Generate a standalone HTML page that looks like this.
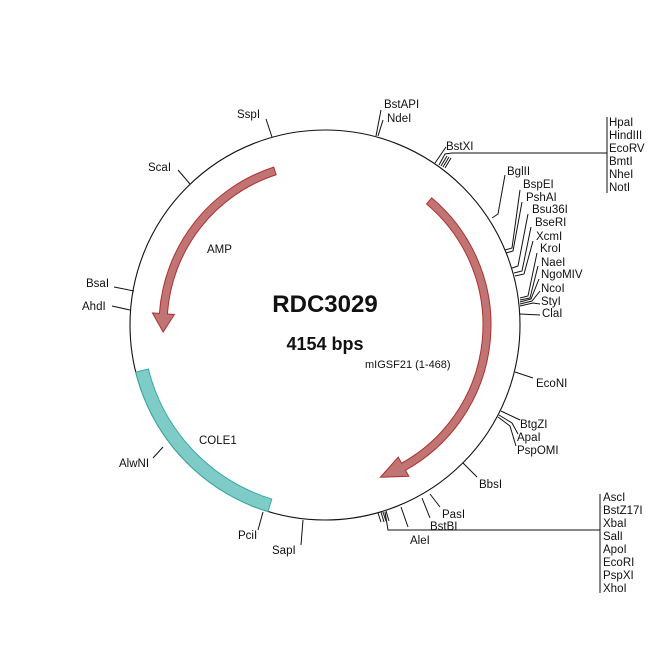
<!DOCTYPE html>
<html><head><meta charset="utf-8"><style>
html,body{margin:0;padding:0;background:#fff;}
svg{display:block;}
text{font-family:"Liberation Sans",Arial,sans-serif;font-size:11.5px;fill:#111;}
</style></head><body>
<svg id="s" width="650" height="650" viewBox="0 0 650 650" xmlns="http://www.w3.org/2000/svg">
<rect width="650" height="650" fill="#fff"/>
<circle cx="325" cy="325" r="195" fill="none" stroke="#111" stroke-width="1.1"/>
<path id="cole" fill="#7ecbc8" stroke="#3aaba6" stroke-width="1"/>
<path id="amp" fill="#c07474" stroke="#b03030" stroke-width="1"/>
<path id="igs" fill="#c07474" stroke="#b03030" stroke-width="1"/>
<g stroke="#111" stroke-width="1" fill="none">
<!-- left ticks -->
<polyline points="272,137 266,119"/>
<polyline points="190,184 178,170"/>
<polyline points="134,291 114,287"/>
<polyline points="130,310 112,306"/>
<polyline points="163,447 153,458"/>
<polyline points="263,512 258,530"/>
<polyline points="303,520 301,545"/>
<!-- top -->
<polyline points="376,136 381,110"/>
<polyline points="378,136 383,120"/>
<polyline points="435,163 446,147"/>
<polyline points="439,165 445,154 452,153 607,153"/>
<polyline points="441,166 447,156"/>
<polyline points="443,167 449,157"/>
<polyline points="445,168 451,158"/>
<line x1="607" y1="117" x2="607" y2="193"/>
<!-- right group -->
<polyline points="492,218 498,214 505,175"/>
<polyline points="505,250 512,248 520,190"/>
<polyline points="506,253 513,251 522,202"/>
<polyline points="512,268 518,266 528,214"/>
<polyline points="514,273 522,271 531,227"/>
<polyline points="515,276 524,274 533,241"/>
<polyline points="520,298 528,296 537,253"/>
<polyline points="520,300 530,298 538,266"/>
<polyline points="520,302 531,299 539,279"/>
<polyline points="520,304 532,301 540,291"/>
<polyline points="520,306 533,303 540,304"/>
<polyline points="520,314 540,315"/>
<!-- lower right -->
<polyline points="515,372 533,378"/>
<polyline points="501,411 520,420"/>
<polyline points="499,415 512,423 518,434"/>
<polyline points="498,417 510,426 516,446"/>
<polyline points="463,463 477,477"/>
<polyline points="430,494 440,507"/>
<polyline points="422,498 430,518"/>
<polyline points="401,507 408,527"/>
<polyline points="385,512 388,530 600,530"/>
<line x1="378" y1="513" x2="381" y2="522"/>
<line x1="381" y1="512" x2="384" y2="522"/>
<line x1="383" y1="512" x2="386" y2="521"/>
<line x1="386" y1="511" x2="389" y2="521"/>
<line x1="600" y1="494" x2="600" y2="593"/>
</g>
<g>
<text x="237" y="118">SspI</text>
<text x="148" y="171">ScaI</text>
<text x="86" y="287">BsaI</text>
<text x="82" y="310">AhdI</text>
<text x="119" y="467">AlwNI</text>
<text x="238" y="539">PciI</text>
<text x="272" y="554">SapI</text>
<text x="384" y="108">BstAPI</text>
<text x="387" y="122">NdeI</text>
<text x="446" y="150">BstXI</text>
<text x="609" y="126">HpaI</text>
<text x="609" y="139">HindIII</text>
<text x="609" y="152">EcoRV</text>
<text x="609" y="165">BmtI</text>
<text x="609" y="178">NheI</text>
<text x="609" y="191">NotI</text>
<text x="507" y="175">BglII</text>
<text x="523" y="188">BspEI</text>
<text x="526" y="201">PshAI</text>
<text x="532" y="213">Bsu36I</text>
<text x="535" y="226">BseRI</text>
<text x="536" y="240">XcmI</text>
<text x="540" y="252">KroI</text>
<text x="541" y="266">NaeI</text>
<text x="541" y="278">NgoMIV</text>
<text x="541" y="292">NcoI</text>
<text x="541" y="305">StyI</text>
<text x="542" y="317">ClaI</text>
<text x="536" y="387">EcoNI</text>
<text x="520" y="428">BtgZI</text>
<text x="517" y="441">ApaI</text>
<text x="517" y="454">PspOMI</text>
<text x="479" y="488">BbsI</text>
<text x="442" y="518">PasI</text>
<text x="430" y="530">BstBI</text>
<text x="410" y="544">AleI</text>
<text x="603" y="501">AscI</text>
<text x="603" y="514">BstZ17I</text>
<text x="603" y="527">XbaI</text>
<text x="603" y="540">SalI</text>
<text x="603" y="553">ApoI</text>
<text x="603" y="566">EcoRI</text>
<text x="603" y="579">PspXI</text>
<text x="603" y="592">XhoI</text>
<text x="207" y="253">AMP</text>
<text x="199" y="444">COLE1</text>
<text x="365" y="368" style="font-size:11px">mIGSF21 (1-468)</text>
<text x="325" y="312" text-anchor="middle" style="font-size:24px;font-weight:bold">RDC3029</text>
<text x="325" y="350" text-anchor="middle" style="font-size:18px;font-weight:bold">4154 bps</text>
</g>
</svg>
<script>
var cx=325,cy=325;
function P(r,a){a=a*Math.PI/180;return (cx+r*Math.cos(a)).toFixed(2)+","+(cy+r*Math.sin(a)).toFixed(2);}
function band(r1,r2,a1,a2){ // a1<a2 clockwise
 var l=(a2-a1)>180?1:0;
 return "M"+P(r2,a1)+" A"+r2+","+r2+" 0 "+l+" 1 "+P(r2,a2)+" L"+P(r1,a2)+" A"+r1+","+r1+" 0 "+l+" 0 "+P(r1,a1)+" Z";
}
function arrowCW(r,w,hw,a1,ab,at){ // clockwise from a1 to ab, tip at at
 var ro=r+w/2,ri=r-w/2,l=(ab-a1)>180?1:0;
 return "M"+P(ro,a1)+" A"+ro+","+ro+" 0 "+l+" 1 "+P(ro,ab)+" L"+P(r+hw/2,ab)+" L"+P(r,at)+" L"+P(r-hw/2,ab)+" L"+P(ri,ab)+" A"+ri+","+ri+" 0 "+l+" 0 "+P(ri,a1)+" Z";
}
function arrowCCW(r,w,hw,a1,ab,at){ // counterclockwise from a1 down to ab
 var ro=r+w/2,ri=r-w/2,l=(a1-ab)>180?1:0;
 return "M"+P(ro,a1)+" A"+ro+","+ro+" 0 "+l+" 0 "+P(ro,ab)+" L"+P(r+hw/2,ab)+" L"+P(r,at)+" L"+P(r-hw/2,ab)+" L"+P(ri,ab)+" A"+ri+","+ri+" 0 "+l+" 1 "+P(ri,a1)+" Z";
}
document.getElementById("cole").setAttribute("d",band(182,195,107,166));
document.getElementById("amp").setAttribute("d",arrowCCW(162,8,22,252,184,177.5));
document.getElementById("igs").setAttribute("d",arrowCW(162,8,22,310,421,430));
</script>
</body></html>
